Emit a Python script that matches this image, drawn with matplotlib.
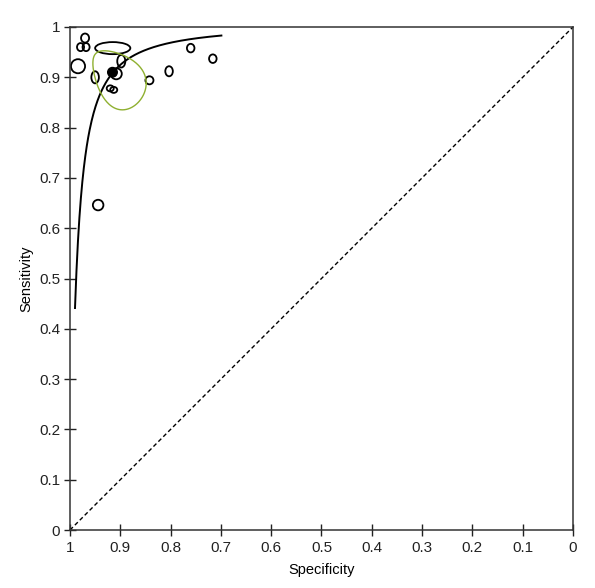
import numpy as np
import matplotlib
matplotlib.use("Agg")
import matplotlib.pyplot as plt
from matplotlib.patches import Ellipse

plt.rcParams['font.family'] = ['Liberation Sans', 'DejaVu Sans']

# individual studies: specificity, sensitivity, circle width / height (data units)
spec = [0.970, 0.979, 0.968, 0.984, 0.915, 0.950, 0.898, 0.908,
        0.920, 0.913, 0.842, 0.803, 0.760, 0.716, 0.944]
sens = [0.978, 0.960, 0.960, 0.922, 0.958, 0.900, 0.932, 0.907,
        0.878, 0.875, 0.894, 0.912, 0.958, 0.937, 0.646]
wid = [0.016, 0.014, 0.014, 0.028, 0.070, 0.015, 0.016, 0.022,
       0.014, 0.014, 0.016, 0.015, 0.015, 0.015, 0.021]
hgt = [0.018, 0.016, 0.016, 0.028, 0.024, 0.024, 0.025, 0.022,
       0.012, 0.012, 0.016, 0.020, 0.017, 0.017, 0.021]

# summary point
sum_spec, sum_sens = 0.9155, 0.910

# HSROC curve: logit(sens) = alpha + beta * logit(1 - spec)
alpha, beta = 5.021, 1.144
fpr_range = (0.010, 0.301)

# 95% confidence region (in logit space around the summary)
half_fpr, half_sens, rho = 0.66, 0.69, -0.35

ticks = [0, 0.1, 0.2, 0.3, 0.4, 0.5, 0.6, 0.7, 0.8, 0.9, 1]
tick_labels = ['0', '0.1', '0.2', '0.3', '0.4', '0.5', '0.6', '0.7', '0.8', '0.9', '1']


def logit(p):
    return np.log(p / (1 - p))


def expit(x):
    return 1 / (1 + np.exp(-x))


fig = plt.figure(figsize=(5.95, 5.88), dpi=100)
ax = fig.add_axes([0.1176, 0.0986, 0.8454, 0.8555])

# chance line
ax.plot([1, 0], [0, 1], color='black', linestyle=(0, (3, 2)), linewidth=1)

# SROC curve
fpr = np.linspace(fpr_range[0], fpr_range[1], 300)
ax.plot(1 - fpr, expit(alpha + beta * logit(fpr)), color='black', linewidth=1.4)

# confidence region
t = np.linspace(0, 2 * np.pi, 200)
lf = logit(1 - sum_spec) + half_fpr * np.cos(t)
ls = logit(sum_sens) + half_sens * (rho * np.cos(t) + np.sqrt(1 - rho ** 2) * np.sin(t))
ax.plot(1 - expit(lf), expit(ls), color='#8fb030', linewidth=1)

# studies
for x, y, w, h in zip(spec, sens, wid, hgt):
    ax.add_patch(Ellipse((x, y), w, h, facecolor='none', edgecolor='black', linewidth=1.3))

ax.add_patch(Ellipse((sum_spec, sum_sens), 0.019, 0.019, facecolor='black', edgecolor='black'))

ax.set_xlim(1, 0)
ax.set_ylim(0, 1)
ax.set_xticks(ticks)
ax.set_xticklabels(tick_labels)
ax.set_yticks(ticks)
ax.set_yticklabels(tick_labels)
ax.tick_params(direction='inout', length=8, width=1, labelsize=11, colors='#222222')
ax.tick_params(axis='x', pad=4)
ax.tick_params(axis='y', pad=3)
for s in ax.spines.values():
    s.set_linewidth(1.1)
    s.set_color('#333333')

ax.set_xlabel('Specificity', fontsize=10.5, labelpad=6)
ax.set_ylabel('Sensitivity', fontsize=10.5, labelpad=4)

fig.savefig('out.png', dpi=100)
